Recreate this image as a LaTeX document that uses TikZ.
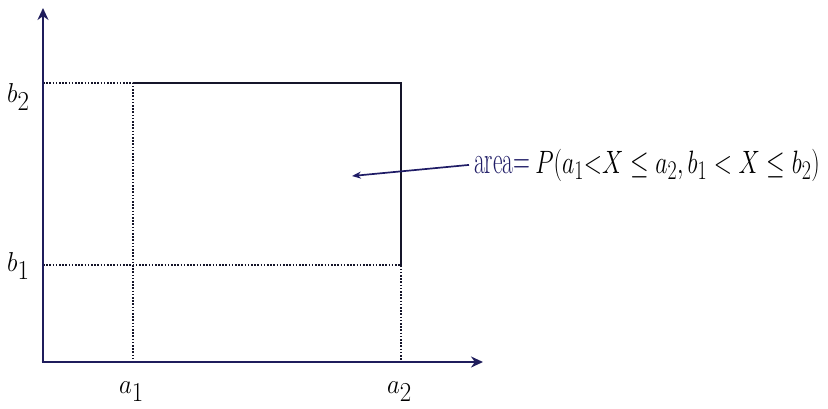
\documentclass[tikz,border=0pt]{standalone}
\usetikzlibrary{arrows.meta,positioning,calc}
\definecolor{AxisNavy}{HTML}{1F1D5C}
\definecolor{NoteBlue}{HTML}{1F1C66}
\definecolor{EdgeDark}{HTML}{15152A}
\newcommand{\tallbox}[3]{\scalebox{#1}[#2]{#3}}
\tikzset{
  axisline/.style={-{Stealth[length=12pt,width=11pt]},line width=2.8pt,draw=AxisNavy},
  boxedge/.style={line width=2.2pt,draw=EdgeDark},
  guide/.style={line width=2pt,draw=EdgeDark,dash pattern=on 1.6pt off 1.6pt},
  notearrow/.style={-{Stealth[length=9pt,width=7pt]},line width=1.7pt,draw=NoteBlue},
  ticklabel/.style={font=\fontsize{36}{40}\selectfont,inner sep=0pt,anchor=base west},
  notetext/.style={font=\fontsize{30}{36}\selectfont,inner sep=0pt,anchor=base west}
}
\begin{document}
\begin{tikzpicture}[x=1pt,y=-1pt]
\useasboundingbox (0,0) rectangle (828,408);
\coordinate (O) at (43,362);
\coordinate (ytip) at (43,8);
\coordinate (xtip) at (483,362);
\coordinate (TL) at (133,83);
\coordinate (TR) at (401,83);
\coordinate (BR) at (401,265);
\coordinate (aim) at (352,176);
\draw[guide] (O |- TL) -- (TL) -- (TL |- O);
\draw[guide] (O |- BR) -- (BR) -- (BR |- O);
\draw[boxedge] (TL) -- (TR) -- (BR);
\draw[axisline] (O) -- (ytip);
\draw[axisline] ([xshift=-1.4pt]O) -- (xtip);
\node[ticklabel] (la1) at (119,393) {\tallbox{1}{1.1}{$a_1$}};
\node[ticklabel] (la2) at (387,393) {\tallbox{1}{1.1}{$a_2$}};
\node[ticklabel] (lb2) at (7,102) {\tallbox{1}{1.1}{$b_2$}};
\node[ticklabel] (lb1) at (7,271) {\tallbox{1}{1.1}{$b_1$}};
\node[notetext] (note) at (474,173) {\tallbox{0.78}{1.3}{\textcolor{NoteBlue}{area=}}\,\tallbox{0.96}{1.3}{$P(a_1 \mathord{<} X \le a_2, b_1 < X \le b_2)$}};
\draw[notearrow] ([xshift=-5pt]note.west) -- (aim);
\end{tikzpicture}
\end{document}
